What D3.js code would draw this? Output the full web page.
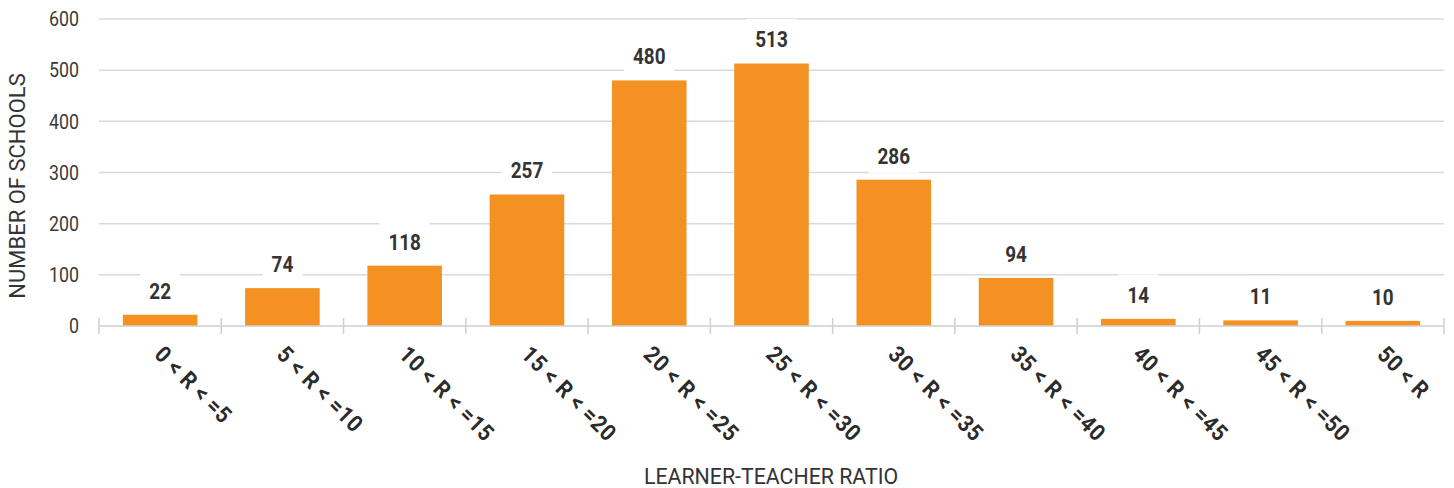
<!DOCTYPE html>
<html>
<head>
<meta charset="utf-8">
<script src="https://cdn.jsdelivr.net/npm/d3@7"></script>
<style>
  body { margin: 0; background: #fff; }
  svg { display: block; font-family: Roboto, "Liberation Sans", sans-serif; }
</style>
</head>
<body>
<svg id="chart"></svg>
<script>
const categories = ['0 < R < =5', '5 < R < =10', '10 < R < =15', '15 < R < =20', '20 < R < =25', '25 < R < =30',
  '30 < R < =35', '35 < R < =40', '40 < R < =45', '45 < R < =50', '50 < R'];
const schools = [22, 74, 118, 257, 480, 513, 286, 94, 14, 11, 10];
const yTicks = [0, 100, 200, 300, 400, 500, 600];

const width = 1454, height = 488;
const margin = { top: 19, right: 10, bottom: 162, left: 99 };
const narrow = 0.86; // squeeze text horizontally to mimic the condensed face

const svg = d3.select('#chart')
  .attr('width', width)
  .attr('height', height);

const x = d3.scaleBand()
  .domain(categories)
  .range([margin.left, width - margin.right])
  .paddingInner(0.39)
  .paddingOuter(0.195);

const y = d3.scaleLinear()
  .domain([0, 600])
  .range([height - margin.bottom, margin.top]);

// gridlines
svg.append('g')
  .selectAll('line')
  .data(yTicks.filter(d => d > 0))
  .enter().append('line')
  .attr('x1', margin.left)
  .attr('x2', width - margin.right)
  .attr('y1', d => y(d))
  .attr('y2', d => y(d))
  .attr('stroke', '#dadada')
  .attr('stroke-width', 1.5);

// y tick labels
svg.append('g')
  .selectAll('text')
  .data(yTicks)
  .enter().append('text')
  .attr('transform', d => `translate(79, ${y(d)}) scale(0.89, 1)`)
  .attr('dy', '0.36em')
  .attr('text-anchor', 'end')
  .attr('font-size', 20)
  .attr('fill', '#3a3a3a')
  .text(d => d);

// bars
svg.append('g')
  .selectAll('rect')
  .data(schools)
  .enter().append('rect')
  .attr('x', (d, i) => x(categories[i]))
  .attr('width', x.bandwidth())
  .attr('y', d => y(d))
  .attr('height', d => y(0) - y(d))
  .attr('fill', '#f39222');

// value labels with white boxes that break the gridlines
const labels = svg.append('g')
  .selectAll('g')
  .data(schools)
  .enter().append('g')
  .attr('transform', (d, i) => `translate(${x(categories[i]) + x.bandwidth() / 2}, ${y(d) - 24})`);

labels.append('rect')
  .attr('fill', '#fff');

labels.append('text')
  .attr('transform', `scale(${narrow}, 1)`)
  .attr('text-anchor', 'middle')
  .attr('dy', '0.36em')
  .attr('font-size', 22)
  .attr('font-weight', 'bold')
  .attr('fill', '#333')
  .text(d => d);

labels.each(function() {
  const g = d3.select(this);
  const bb = g.select('text').node().getBBox();
  g.select('rect')
    .attr('x', bb.x * narrow - 9)
    .attr('y', bb.y - 8)
    .attr('width', bb.width * narrow + 18)
    .attr('height', bb.height + 12);
});

// x axis line with tick marks at band boundaries
const axisY = y(0);
svg.append('line')
  .attr('x1', margin.left)
  .attr('x2', width - margin.right)
  .attr('y1', axisY)
  .attr('y2', axisY)
  .attr('stroke', '#cfcfcf')
  .attr('stroke-width', 1.5);

const bounds = d3.range(categories.length + 1).map(i => margin.left + i * (width - margin.right - margin.left) / categories.length);
svg.append('g')
  .selectAll('line')
  .data(bounds)
  .enter().append('line')
  .attr('x1', d => d)
  .attr('x2', d => d)
  .attr('y1', axisY - 8)
  .attr('y2', axisY + 8)
  .attr('stroke', '#cfcfcf')
  .attr('stroke-width', 1.5);

// rotated category labels
svg.append('g')
  .selectAll('text')
  .data(categories)
  .enter().append('text')
  .attr('transform', d => `translate(${x(d) + x.bandwidth() / 2 - 1}, ${axisY + 24}) rotate(45) scale(0.9, 1)`)
  .attr('text-anchor', 'start')
  .attr('dy', '0.36em')
  .attr('font-size', 23)
  .attr('font-weight', 'bold')
  .attr('letter-spacing', 0.8)
  .attr('fill', '#2b2b2b')
  .text(d => d);

// axis titles
svg.append('text')
  .attr('transform', 'translate(17, 186) rotate(-90)')
  .attr('text-anchor', 'middle')
  .attr('dy', '0.36em')
  .attr('font-size', 22)
  .attr('fill', '#333')
  .text('NUMBER OF SCHOOLS');

svg.append('text')
  .attr('transform', 'translate(771, 476) scale(0.97, 1)')
  .attr('text-anchor', 'middle')
  .attr('dy', '0.36em')
  .attr('font-size', 22)
  .attr('fill', '#333')
  .text('LEARNER-TEACHER RATIO');
</script>
</body>
</html>
